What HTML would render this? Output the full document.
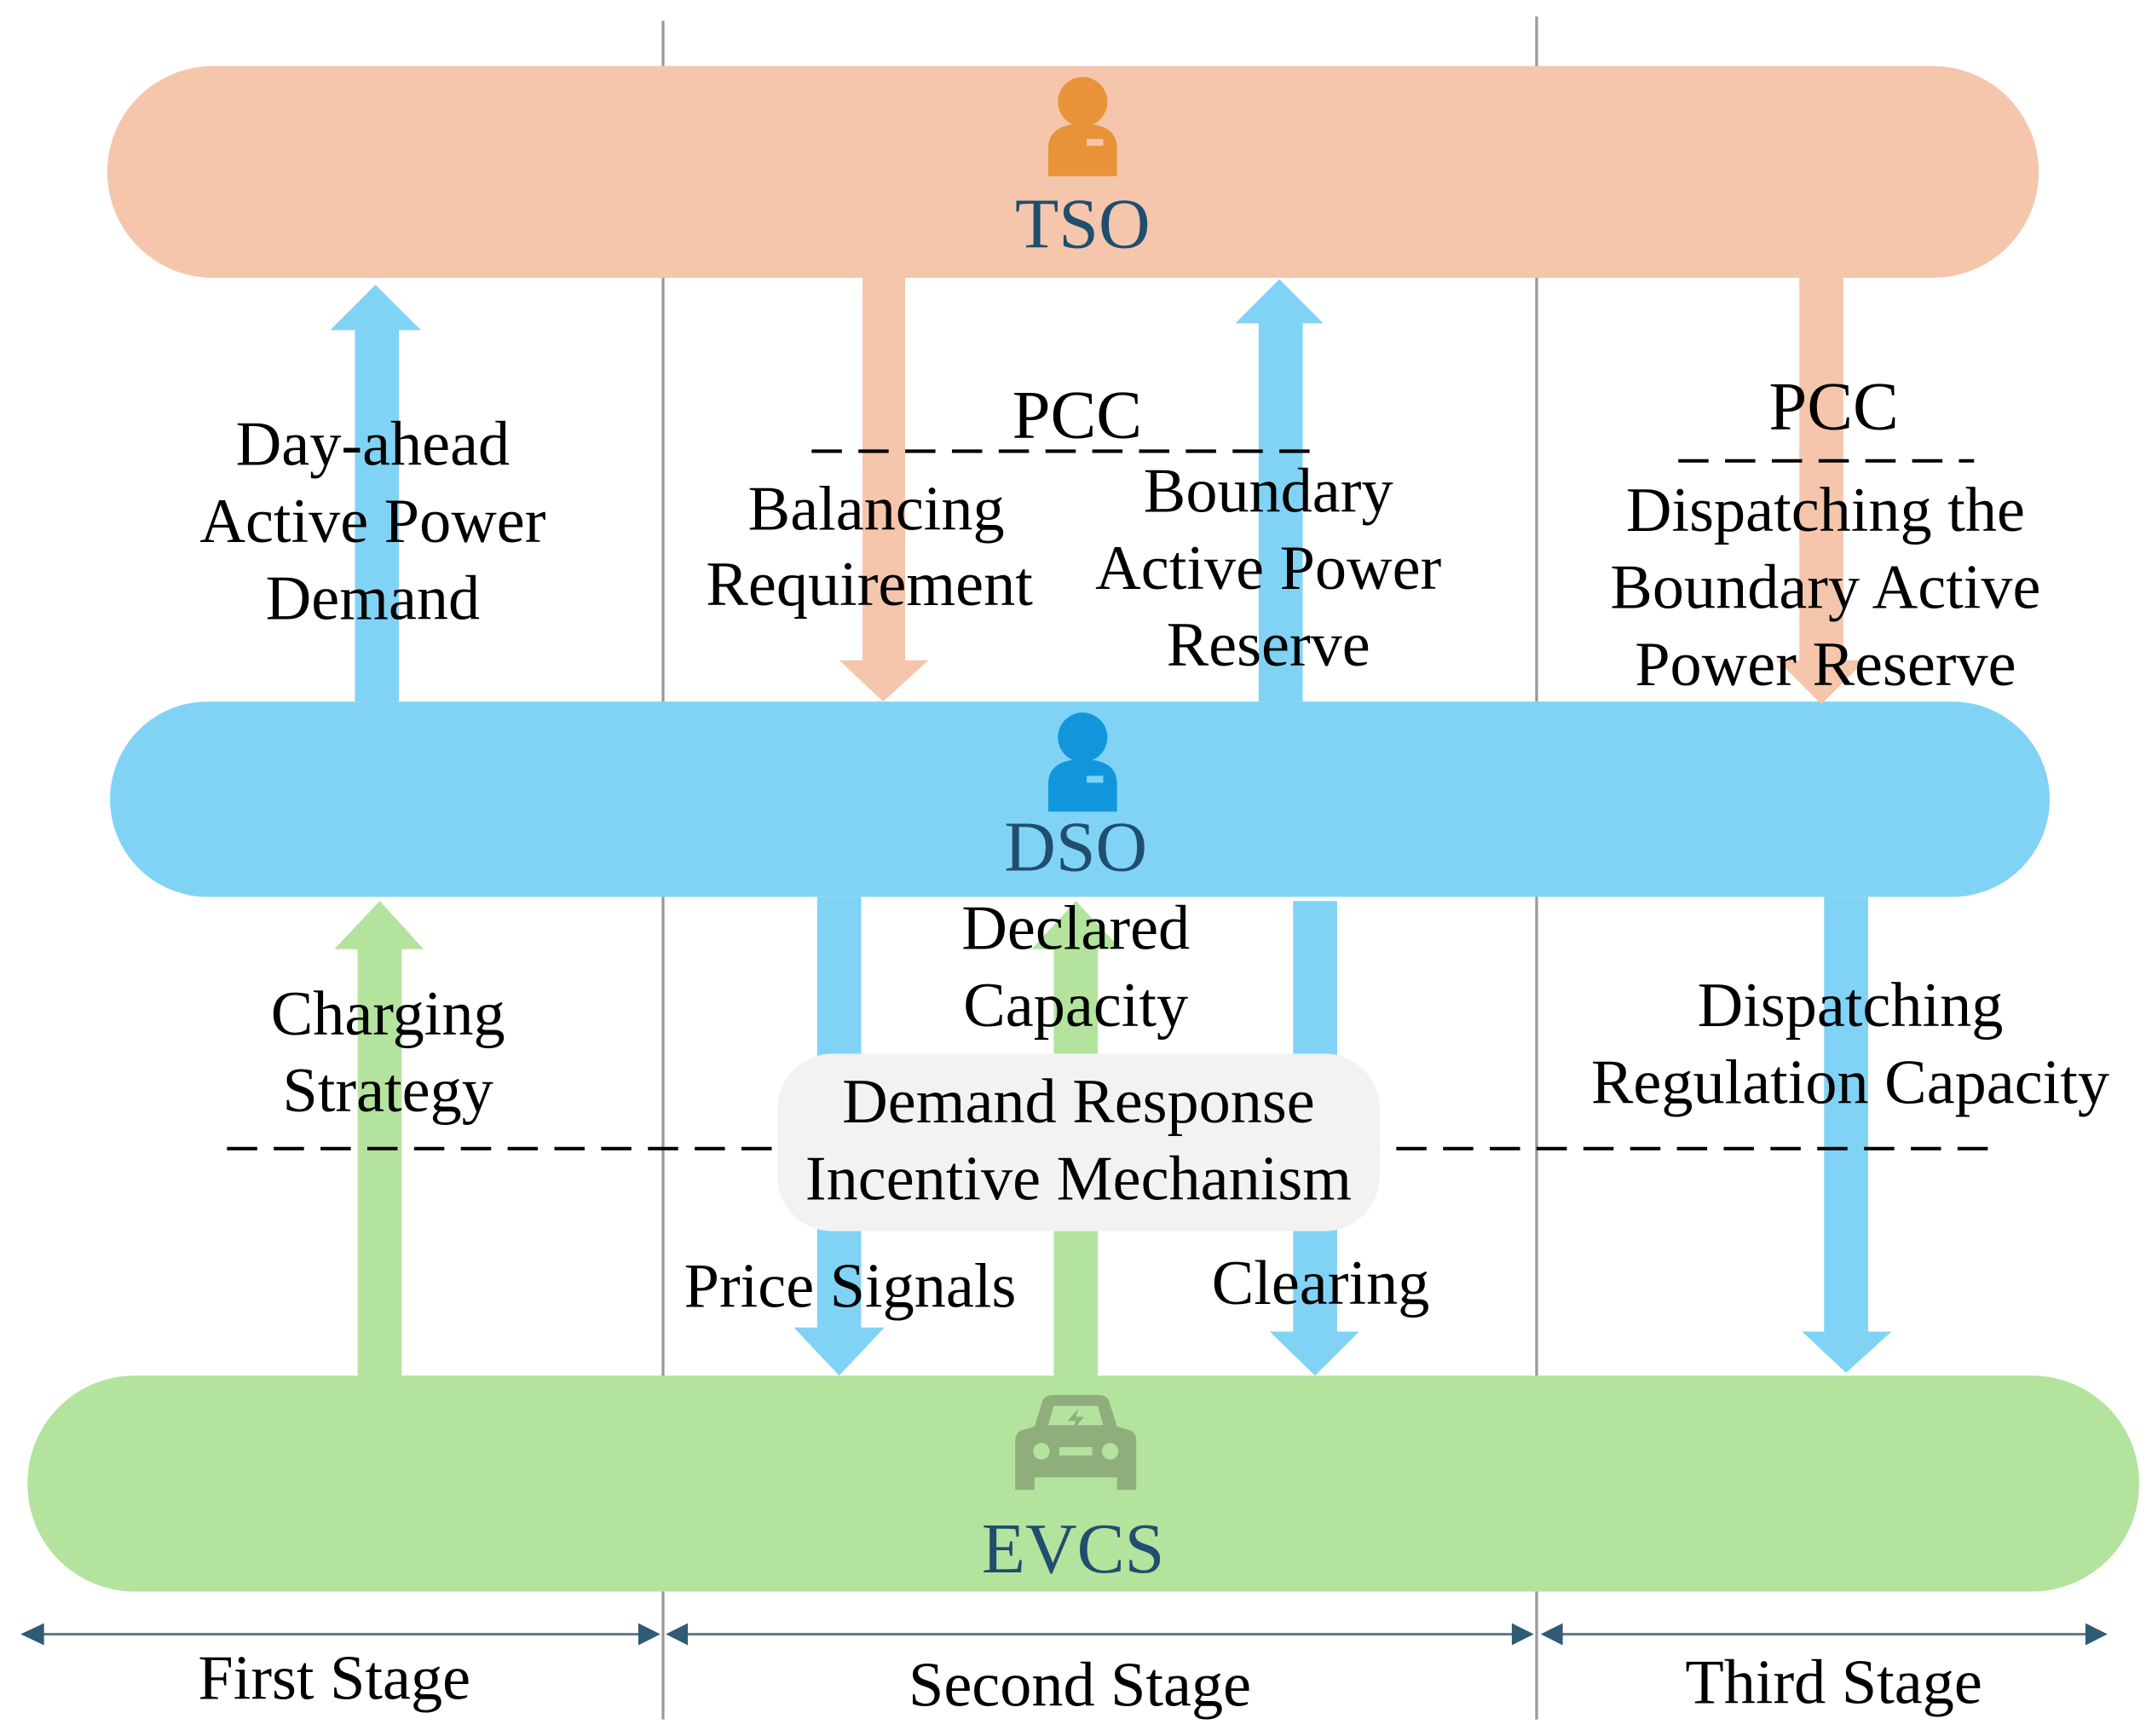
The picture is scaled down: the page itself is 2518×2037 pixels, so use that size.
<!DOCTYPE html>
<html><head><meta charset="utf-8"><style>
html,body{margin:0;padding:0;background:#fff;}
svg{display:block;}
text{font-family:"Liberation Serif",serif;}
</style></head><body>
<svg width="2518" height="2037" viewBox="0 0 1560 1262" preserveAspectRatio="none" xmlns="http://www.w3.org/2000/svg">
<rect width="1560" height="1262" fill="#fff"/>
<line x1="482" y1="15" x2="482" y2="1250" stroke="#999" stroke-width="2"/>
<line x1="1117" y1="12" x2="1117" y2="1250" stroke="#999" stroke-width="2"/>
<rect x="78" y="48" width="1404" height="154" rx="77" fill="#F5C6AC"/>
<rect x="80" y="510" width="1410" height="142" rx="71" fill="#81D3F5"/>
<rect x="20" y="1000" width="1535" height="157" rx="78" fill="#B3E39D"/>
<polygon points="258,510 290,510 290,240 306,240 273,207 240,240 258,240" fill="#81D3F5"/>
<polygon points="627,202 658,202 658,480 675,480 642,510 610,480 627,480" fill="#F5C6AC"/>
<polygon points="915,510 947,510 947,235 962,235 930,203 898,235 915,235" fill="#81D3F5"/>
<polygon points="1308,202 1340,202 1340,480 1356,480 1324,512 1292,480 1308,480" fill="#F5C6AC"/>
<polygon points="260,1000 292,1000 292,690 308,690 276,655 243,690 260,690" fill="#B3E39D"/>
<polygon points="594,652 626,652 626,965 643,965 610,1000 577,965 594,965" fill="#81D3F5"/>
<polygon points="766,1000 798,1000 798,690 815,690 782,655 750,690 766,690" fill="#B3E39D"/>
<polygon points="940,655 972,655 972,968 988,968 956,1000 923,968 940,968" fill="#81D3F5"/>
<polygon points="1326,652 1358,652 1358,968 1375,968 1342,998 1310,968 1326,968" fill="#81D3F5"/>
<g stroke="#000" stroke-width="2.5" stroke-dasharray="22,12">
<line x1="590" y1="328" x2="960" y2="328"/>
<line x1="1220" y1="335" x2="1435" y2="335"/>
<line x1="165" y1="835" x2="1445" y2="835"/>
</g>
<rect x="565" y="766" width="438" height="129" rx="40" fill="#F2F2F2"/>
<g fill="#E8923A">
<circle cx="787" cy="74" r="18"/>
<path d="M762,128 L762,108 Q762,90 787,90 Q812,90 812,108 L812,128 Z"/>
</g>
<rect x="790" y="101" width="12" height="5" fill="#F5C6AC"/>
<g fill="#1296DB">
<circle cx="787" cy="536" r="18"/>
<path d="M762,590 L762,570 Q762,552 787,552 Q812,552 812,570 L812,590 Z"/>
</g>
<rect x="790" y="564" width="12" height="5" fill="#81D3F5"/>
<g fill="#8FAE7C">
<path d="M752,1037 L758,1018 Q760,1014 766,1014 L798,1014 Q804,1014 806,1018 L812,1037 L822,1040 Q826,1042 826,1048 L826,1083 L812,1083 L812,1074 L752,1074 L752,1083 L738,1083 L738,1048 Q738,1042 742,1040 Z"/>
</g>
<path d="M762,1036 L766,1022 L798,1022 L802,1036 Z" fill="#B3E39D"/>
<polygon points="784,1024 776,1033 782,1033 779,1041 788,1030 782,1030" fill="#8FAE7C"/>
<circle cx="757" cy="1055" r="6" fill="#B3E39D"/>
<circle cx="807" cy="1055" r="6" fill="#B3E39D"/>
<rect x="770" y="1052" width="24" height="6" fill="#B3E39D"/>
<g stroke="#6b7a86" stroke-width="2">
<line x1="20" y1="1188" x2="478" y2="1188"/>
<line x1="488" y1="1188" x2="1112" y2="1188"/>
<line x1="1122" y1="1188" x2="1528" y2="1188"/>
</g>
<g fill="#2F5B75">
<polygon points="15,1188 32,1180 32,1196"/>
<polygon points="480,1188 464,1180 464,1196"/>
<polygon points="484,1188 500,1180 500,1196"/>
<polygon points="1115,1188 1099,1180 1099,1196"/>
<polygon points="1120,1188 1136,1180 1136,1196"/>
<polygon points="1532,1188 1516,1180 1516,1196"/>
</g>
<g font-size="46" text-anchor="middle" fill="#000">
<text x="271" y="338">Day-ahead</text>
<text x="271" y="394">Active Power</text>
<text x="271" y="450">Demand</text>
<text x="783" y="318" font-size="50">PCC</text>
<text x="1333" y="312" font-size="50">PCC</text>
<text x="637" y="385">Balancing</text>
<text x="632" y="440">Requirement</text>
<text x="922" y="372">Boundary</text>
<text x="922" y="428">Active Power</text>
<text x="922" y="484">Reserve</text>
<text x="1327" y="386">Dispatching the</text>
<text x="1327" y="442">Boundary Active</text>
<text x="1327" y="498">Power Reserve</text>
<text x="282" y="752">Charging</text>
<text x="282" y="808">Strategy</text>
<text x="782" y="690">Declared</text>
<text x="782" y="746">Capacity</text>
<text x="784" y="816">Demand Response</text>
<text x="784" y="872">Incentive Mechanism</text>
<text x="1345" y="746">Dispatching</text>
<text x="1345" y="802">Regulation Capacity</text>
<text x="618" y="950">Price Signals</text>
<text x="960" y="948">Clearing</text>
<text x="243" y="1235">First Stage</text>
<text x="785" y="1240">Second Stage</text>
<text x="1333" y="1238">Third Stage</text>
</g>
<g font-size="52" text-anchor="middle" fill="#1F4E6E">
<text x="787" y="180">TSO</text>
<text x="782" y="633">DSO</text>
<text x="780" y="1143">EVCS</text>
</g>
</svg>
</body></html>
